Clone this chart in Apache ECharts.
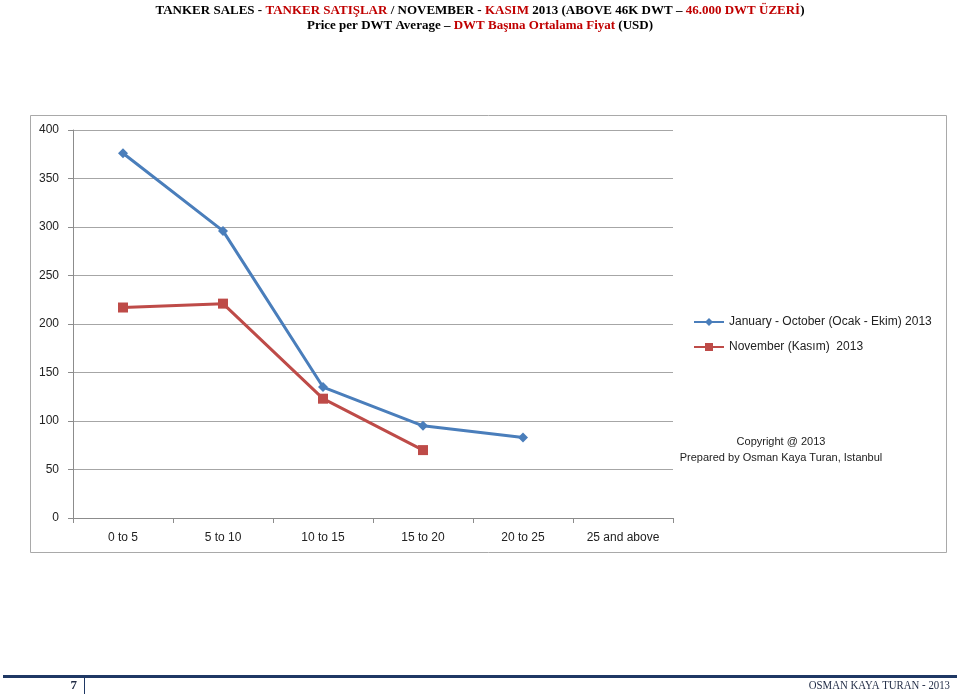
<!DOCTYPE html>
<html>
<head>
<meta charset="utf-8">
<script src="https://cdn.jsdelivr.net/npm/echarts@6/dist/echarts.min.js"></script>
<style>html,body{margin:0;padding:0;background:#fff}#c{width:960px;height:696px}</style>
</head>
<body>
<div id="c"></div>
<script>
const categories = ['0 to 5', '5 to 10', '10 to 15', '15 to 20', '20 to 25', '25 and above'];
const janOct = [376, 296, 135, 95, 83, null];
const november = [217, 221, 123, 70, null, null];
const seriesNames = ['January - October (Ocak - Ekim) 2013', 'November (Kasım)  2013'];
const yTicks = [0, 50, 100, 150, 200, 250, 300, 350, 400];

const chart = echarts.init(document.getElementById('c'), null, {renderer: 'canvas'});
const axisGrey = '#8c8c8c';
const lbl = {color: '#222', fontFamily: 'Liberation Sans, Arial, sans-serif', fontSize: 12};
const serif = 'Liberation Serif, DejaVu Serif, serif';
chart.setOption({
  animation: false,
  backgroundColor: '#fff',
  title: {
    left: 'center', top: -2,
    text: '{b|TANKER SALES - }{r|TANKER SATIŞLAR}{b| / NOVEMBER - }{r|KASIM}{b| 2013 (ABOVE 46K DWT – }{r|46.000 DWT ÜZERİ}{b|)}\n{b|Price per DWT Average – }{r|DWT Başına Ortalama Fiyat}{b| (USD)}',
    textStyle: {
      lineHeight: 15,
      rich: {
        b: {color: '#000', fontWeight: 'bold', fontFamily: serif, fontSize: 13, lineHeight: 15},
        r: {color: '#c00000', fontWeight: 'bold', fontFamily: serif, fontSize: 13, lineHeight: 15}
      }
    }
  },
  grid: {left: 73, right: 287, top: 130, bottom: 178, containLabel: false},
  legend: {
    orient: 'vertical', left: 693, top: 316, padding: 0,
    itemWidth: 30, itemHeight: 10, itemGap: 13,
    textStyle: {color: '#222', fontFamily: 'Liberation Sans, Arial, sans-serif', fontSize: 12},
    data: seriesNames
  },
  xAxis: {
    type: 'category', data: categories, boundaryGap: true,
    axisLine: {lineStyle: {color: axisGrey, width: 1}},
    axisTick: {show: true, length: 5, lineStyle: {color: axisGrey}, interval: 0},
    axisLabel: Object.assign({margin: 14, interval: 0}, lbl),
    splitLine: {show: false}
  },
  yAxis: {
    type: 'value', min: 0, max: 400, interval: 50,
    axisLine: {show: true, lineStyle: {color: axisGrey, width: 1}},
    axisTick: {show: true, length: 5, lineStyle: {color: axisGrey}},
    axisLabel: Object.assign({margin: 14}, lbl),
    splitLine: {show: true, lineStyle: {color: '#a6a6a6', width: 1}}
  },
  graphic: [
    {type: 'rect', shape: {x: 30.5, y: 115.5, width: 916, height: 437}, style: {fill: 'none', stroke: '#a9a9a9', lineWidth: 1}, z: -1},
    {type: 'text', x: 781, y: 442, style: {text: 'Copyright @ 2013', textAlign: 'center', textVerticalAlign: 'middle', fill: '#222', font: '11px Liberation Sans, Arial, sans-serif'}},
    {type: 'text', x: 781, y: 458, style: {text: 'Prepared by Osman Kaya Turan, Istanbul', textAlign: 'center', textVerticalAlign: 'middle', fill: '#222', font: '11px Liberation Sans, Arial, sans-serif'}},
    {type: 'rect', shape: {x: 3, y: 675, width: 954, height: 3}, style: {fill: '#1f3864'}},
    {type: 'line', shape: {x1: 84.5, y1: 677, x2: 84.5, y2: 694}, style: {stroke: '#1f3864', lineWidth: 1}},
    {type: 'text', x: 77, y: 686, style: {text: '7', textAlign: 'right', textVerticalAlign: 'middle', fill: '#1f2a44', font: 'bold 13px Liberation Serif, serif'}},
    {type: 'text', x: 950, y: 686, scaleX: 0.9, originX: 0, originY: 0, style: {text: 'OSMAN KAYA TURAN - 2013', textAlign: 'right', textVerticalAlign: 'middle', fill: '#1f2a44', font: '12px Liberation Serif, serif'}}
  ],
  series: [
    {
      name: seriesNames[0], type: 'line', data: janOct,
      symbol: 'diamond', symbolSize: 10, showAllSymbol: true,
      lineStyle: {color: '#4a7ebb', width: 3},
      itemStyle: {color: '#4a7ebb'}
    },
    {
      name: seriesNames[1], type: 'line', data: november,
      symbol: 'rect', symbolSize: 10, showAllSymbol: true,
      lineStyle: {color: '#be4b48', width: 3},
      itemStyle: {color: '#be4b48'}
    }
  ]
});
</script>
</body>
</html>
